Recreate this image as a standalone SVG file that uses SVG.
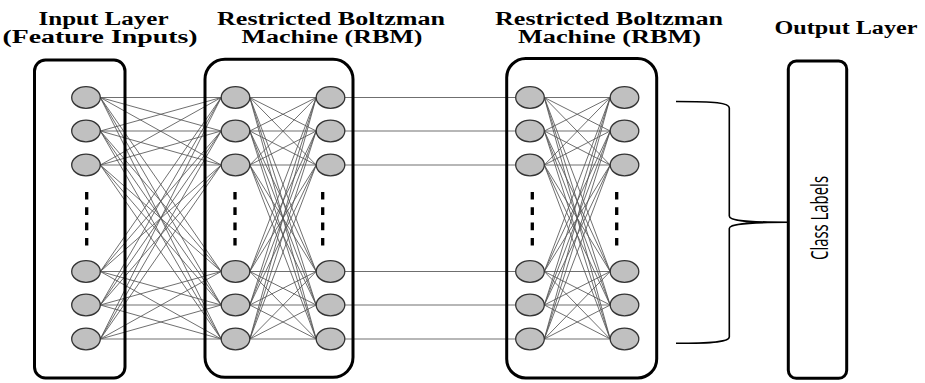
<svg xmlns="http://www.w3.org/2000/svg" width="925" height="383" viewBox="0 0 925 383">
  <style>
    .title { font-family: "Liberation Serif", "Times New Roman", serif; font-weight: bold; font-size: 18.5px; fill: #000; text-anchor: middle; }
    .label { font-family: "Open Sans", "Noto Sans", sans-serif; font-size: 24px; fill: #000; text-anchor: middle; }
    .box { fill: none; stroke: #000; stroke-width: 3; }
    .unit { fill: #c0c0c0; stroke: #333; stroke-width: 1.3; }
    .dots { stroke: #000; stroke-width: 3.3; stroke-dasharray: 7.6 7.7; }
    .wire { fill: none; stroke: #555; stroke-width: 0.85; }
    .brace { fill: none; stroke: #000; stroke-width: 1.6; }
  </style>
  <rect width="925" height="383" fill="#fff"/>

  <!-- headings -->
  <g id="headings">
    <text class="title" x="103.5" y="24.8" textLength="130" lengthAdjust="spacingAndGlyphs">Input Layer</text>
    <text class="title" x="100" y="43" textLength="195" lengthAdjust="spacingAndGlyphs">(Feature Inputs)</text>
    <text class="title" x="331" y="24.8" textLength="228" lengthAdjust="spacingAndGlyphs">Restricted Boltzman</text>
    <text class="title" x="332" y="43" textLength="181" lengthAdjust="spacingAndGlyphs">Machine (RBM)</text>
    <text class="title" x="609" y="24.8" textLength="228" lengthAdjust="spacingAndGlyphs">Restricted Boltzman</text>
    <text class="title" x="609.5" y="43" textLength="183" lengthAdjust="spacingAndGlyphs">Machine (RBM)</text>
    <text class="title" x="846" y="34" textLength="143" lengthAdjust="spacingAndGlyphs">Output Layer</text>
  </g>

  <!-- connectors: every unit of one column to every unit of the next -->
  <g id="connectors">
    <g id="input-to-rbm1">
      <path class="wire" d="M100.3,97.5L221.2,97.5M100.3,97.5L221.2,131M100.3,97.5L221.2,165M100.3,97.5L221.2,271.5M100.3,97.5L221.2,305M100.3,97.5L221.2,339"/>
      <path class="wire" d="M100.3,131L221.2,97.5M100.3,131L221.2,131M100.3,131L221.2,165M100.3,131L221.2,271.5M100.3,131L221.2,305M100.3,131L221.2,339"/>
      <path class="wire" d="M100.3,165L221.2,97.5M100.3,165L221.2,131M100.3,165L221.2,165M100.3,165L221.2,271.5M100.3,165L221.2,305M100.3,165L221.2,339"/>
      <path class="wire" d="M100.3,271.5L221.2,97.5M100.3,271.5L221.2,131M100.3,271.5L221.2,165M100.3,271.5L221.2,271.5M100.3,271.5L221.2,305M100.3,271.5L221.2,339"/>
      <path class="wire" d="M100.3,305L221.2,97.5M100.3,305L221.2,131M100.3,305L221.2,165M100.3,305L221.2,271.5M100.3,305L221.2,305M100.3,305L221.2,339"/>
      <path class="wire" d="M100.3,339L221.2,97.5M100.3,339L221.2,131M100.3,339L221.2,165M100.3,339L221.2,271.5M100.3,339L221.2,305M100.3,339L221.2,339"/>
    </g>
    <g id="rbm1-visible-to-hidden">
      <path class="wire" d="M249.8,97.5L316.2,97.5M249.8,97.5L316.2,131M249.8,97.5L316.2,165M249.8,97.5L316.2,271.5M249.8,97.5L316.2,305M249.8,97.5L316.2,339"/>
      <path class="wire" d="M249.8,131L316.2,97.5M249.8,131L316.2,131M249.8,131L316.2,165M249.8,131L316.2,271.5M249.8,131L316.2,305M249.8,131L316.2,339"/>
      <path class="wire" d="M249.8,165L316.2,97.5M249.8,165L316.2,131M249.8,165L316.2,165M249.8,165L316.2,271.5M249.8,165L316.2,305M249.8,165L316.2,339"/>
      <path class="wire" d="M249.8,271.5L316.2,97.5M249.8,271.5L316.2,131M249.8,271.5L316.2,165M249.8,271.5L316.2,271.5M249.8,271.5L316.2,305M249.8,271.5L316.2,339"/>
      <path class="wire" d="M249.8,305L316.2,97.5M249.8,305L316.2,131M249.8,305L316.2,165M249.8,305L316.2,271.5M249.8,305L316.2,305M249.8,305L316.2,339"/>
      <path class="wire" d="M249.8,339L316.2,97.5M249.8,339L316.2,131M249.8,339L316.2,165M249.8,339L316.2,271.5M249.8,339L316.2,305M249.8,339L316.2,339"/>
    </g>
    <g id="rbm1-to-rbm2">
      <path class="wire" d="M344.8,97.5H515.7M344.8,131H515.7M344.8,165H515.7M344.8,271.5H515.7M344.8,305H515.7M344.8,339H515.7"/>
    </g>
    <g id="rbm2-visible-to-hidden">
      <path class="wire" d="M544.3,97.5L610.2,97.5M544.3,97.5L610.2,131M544.3,97.5L610.2,165M544.3,97.5L610.2,271.5M544.3,97.5L610.2,305M544.3,97.5L610.2,339"/>
      <path class="wire" d="M544.3,131L610.2,97.5M544.3,131L610.2,131M544.3,131L610.2,165M544.3,131L610.2,271.5M544.3,131L610.2,305M544.3,131L610.2,339"/>
      <path class="wire" d="M544.3,165L610.2,97.5M544.3,165L610.2,131M544.3,165L610.2,165M544.3,165L610.2,271.5M544.3,165L610.2,305M544.3,165L610.2,339"/>
      <path class="wire" d="M544.3,271.5L610.2,97.5M544.3,271.5L610.2,131M544.3,271.5L610.2,165M544.3,271.5L610.2,271.5M544.3,271.5L610.2,305M544.3,271.5L610.2,339"/>
      <path class="wire" d="M544.3,305L610.2,97.5M544.3,305L610.2,131M544.3,305L610.2,165M544.3,305L610.2,271.5M544.3,305L610.2,305M544.3,305L610.2,339"/>
      <path class="wire" d="M544.3,339L610.2,97.5M544.3,339L610.2,131M544.3,339L610.2,165M544.3,339L610.2,271.5M544.3,339L610.2,305M544.3,339L610.2,339"/>
    </g>
    <!-- curly brace gathering the top RBM outputs into the class labels -->
    <path id="brace" class="brace" d="M676,101.5C715,101.5 729.3,102.5 729.3,108V216C729.3,220.5 744,222.3 789,222.3C744,222.3 729.3,224 729.3,228.5V337C729.3,341.5 715,343.3 676,343.3"/>
  </g>

  <!-- input layer -->
  <g id="input-layer">
    <rect class="box" x="34.5" y="60" width="90.5" height="318" rx="11"/>
    <g id="in-1"><ellipse class="unit" cx="86" cy="97.5" rx="14.3" ry="10.8"/></g>
    <g id="in-2"><ellipse class="unit" cx="86" cy="131" rx="14.3" ry="10.8"/></g>
    <g id="in-3"><ellipse class="unit" cx="86" cy="165" rx="14.3" ry="10.8"/></g>
    <line class="dots" x1="86.7" y1="192" x2="86.7" y2="245.5"/>
    <g id="in-4"><ellipse class="unit" cx="86" cy="271.5" rx="14.3" ry="10.8"/></g>
    <g id="in-5"><ellipse class="unit" cx="86" cy="305" rx="14.3" ry="10.8"/></g>
    <g id="in-6"><ellipse class="unit" cx="86" cy="339" rx="14.3" ry="10.8"/></g>
  </g>

  <!-- first restricted Boltzmann machine -->
  <g id="rbm-1">
    <rect class="box" x="205" y="59.3" width="148" height="318" rx="20"/>
    <g id="rbm1-v1"><ellipse class="unit" cx="235.5" cy="97.5" rx="14.3" ry="10.8"/></g>
    <g id="rbm1-v2"><ellipse class="unit" cx="235.5" cy="131" rx="14.3" ry="10.8"/></g>
    <g id="rbm1-v3"><ellipse class="unit" cx="235.5" cy="165" rx="14.3" ry="10.8"/></g>
    <line class="dots" x1="235" y1="192" x2="235" y2="245.5"/>
    <g id="rbm1-v4"><ellipse class="unit" cx="235.5" cy="271.5" rx="14.3" ry="10.8"/></g>
    <g id="rbm1-v5"><ellipse class="unit" cx="235.5" cy="305" rx="14.3" ry="10.8"/></g>
    <g id="rbm1-v6"><ellipse class="unit" cx="235.5" cy="339" rx="14.3" ry="10.8"/></g>
    <g id="rbm1-h1"><ellipse class="unit" cx="330.5" cy="97.5" rx="14.3" ry="10.8"/></g>
    <g id="rbm1-h2"><ellipse class="unit" cx="330.5" cy="131" rx="14.3" ry="10.8"/></g>
    <g id="rbm1-h3"><ellipse class="unit" cx="330.5" cy="165" rx="14.3" ry="10.8"/></g>
    <line class="dots" x1="322.7" y1="192" x2="322.7" y2="245.5"/>
    <g id="rbm1-h4"><ellipse class="unit" cx="330.5" cy="271.5" rx="14.3" ry="10.8"/></g>
    <g id="rbm1-h5"><ellipse class="unit" cx="330.5" cy="305" rx="14.3" ry="10.8"/></g>
    <g id="rbm1-h6"><ellipse class="unit" cx="330.5" cy="339" rx="14.3" ry="10.8"/></g>
  </g>

  <!-- second restricted Boltzmann machine -->
  <g id="rbm-2">
    <rect class="box" x="506.7" y="58.5" width="150" height="319.5" rx="19"/>
    <g id="rbm2-v1"><ellipse class="unit" cx="530" cy="97.5" rx="14.3" ry="10.8"/></g>
    <g id="rbm2-v2"><ellipse class="unit" cx="530" cy="131" rx="14.3" ry="10.8"/></g>
    <g id="rbm2-v3"><ellipse class="unit" cx="530" cy="165" rx="14.3" ry="10.8"/></g>
    <line class="dots" x1="532.3" y1="192" x2="532.3" y2="245.5"/>
    <g id="rbm2-v4"><ellipse class="unit" cx="530" cy="271.5" rx="14.3" ry="10.8"/></g>
    <g id="rbm2-v5"><ellipse class="unit" cx="530" cy="305" rx="14.3" ry="10.8"/></g>
    <g id="rbm2-v6"><ellipse class="unit" cx="530" cy="339" rx="14.3" ry="10.8"/></g>
    <g id="rbm2-h1"><ellipse class="unit" cx="624.5" cy="97.5" rx="14.3" ry="10.8"/></g>
    <g id="rbm2-h2"><ellipse class="unit" cx="624.5" cy="131" rx="14.3" ry="10.8"/></g>
    <g id="rbm2-h3"><ellipse class="unit" cx="624.5" cy="165" rx="14.3" ry="10.8"/></g>
    <line class="dots" x1="616.7" y1="192" x2="616.7" y2="245.5"/>
    <g id="rbm2-h4"><ellipse class="unit" cx="624.5" cy="271.5" rx="14.3" ry="10.8"/></g>
    <g id="rbm2-h5"><ellipse class="unit" cx="624.5" cy="305" rx="14.3" ry="10.8"/></g>
    <g id="rbm2-h6"><ellipse class="unit" cx="624.5" cy="339" rx="14.3" ry="10.8"/></g>
  </g>

  <!-- output layer -->
  <g id="output-layer">
    <rect class="box" x="788.3" y="61" width="58.4" height="317.3" rx="8" stroke-width="2.7"/>
    <text class="label" transform="translate(828,218) rotate(-90)" x="0" y="0" textLength="84" lengthAdjust="spacingAndGlyphs">Class Labels</text>
  </g>
</svg>
